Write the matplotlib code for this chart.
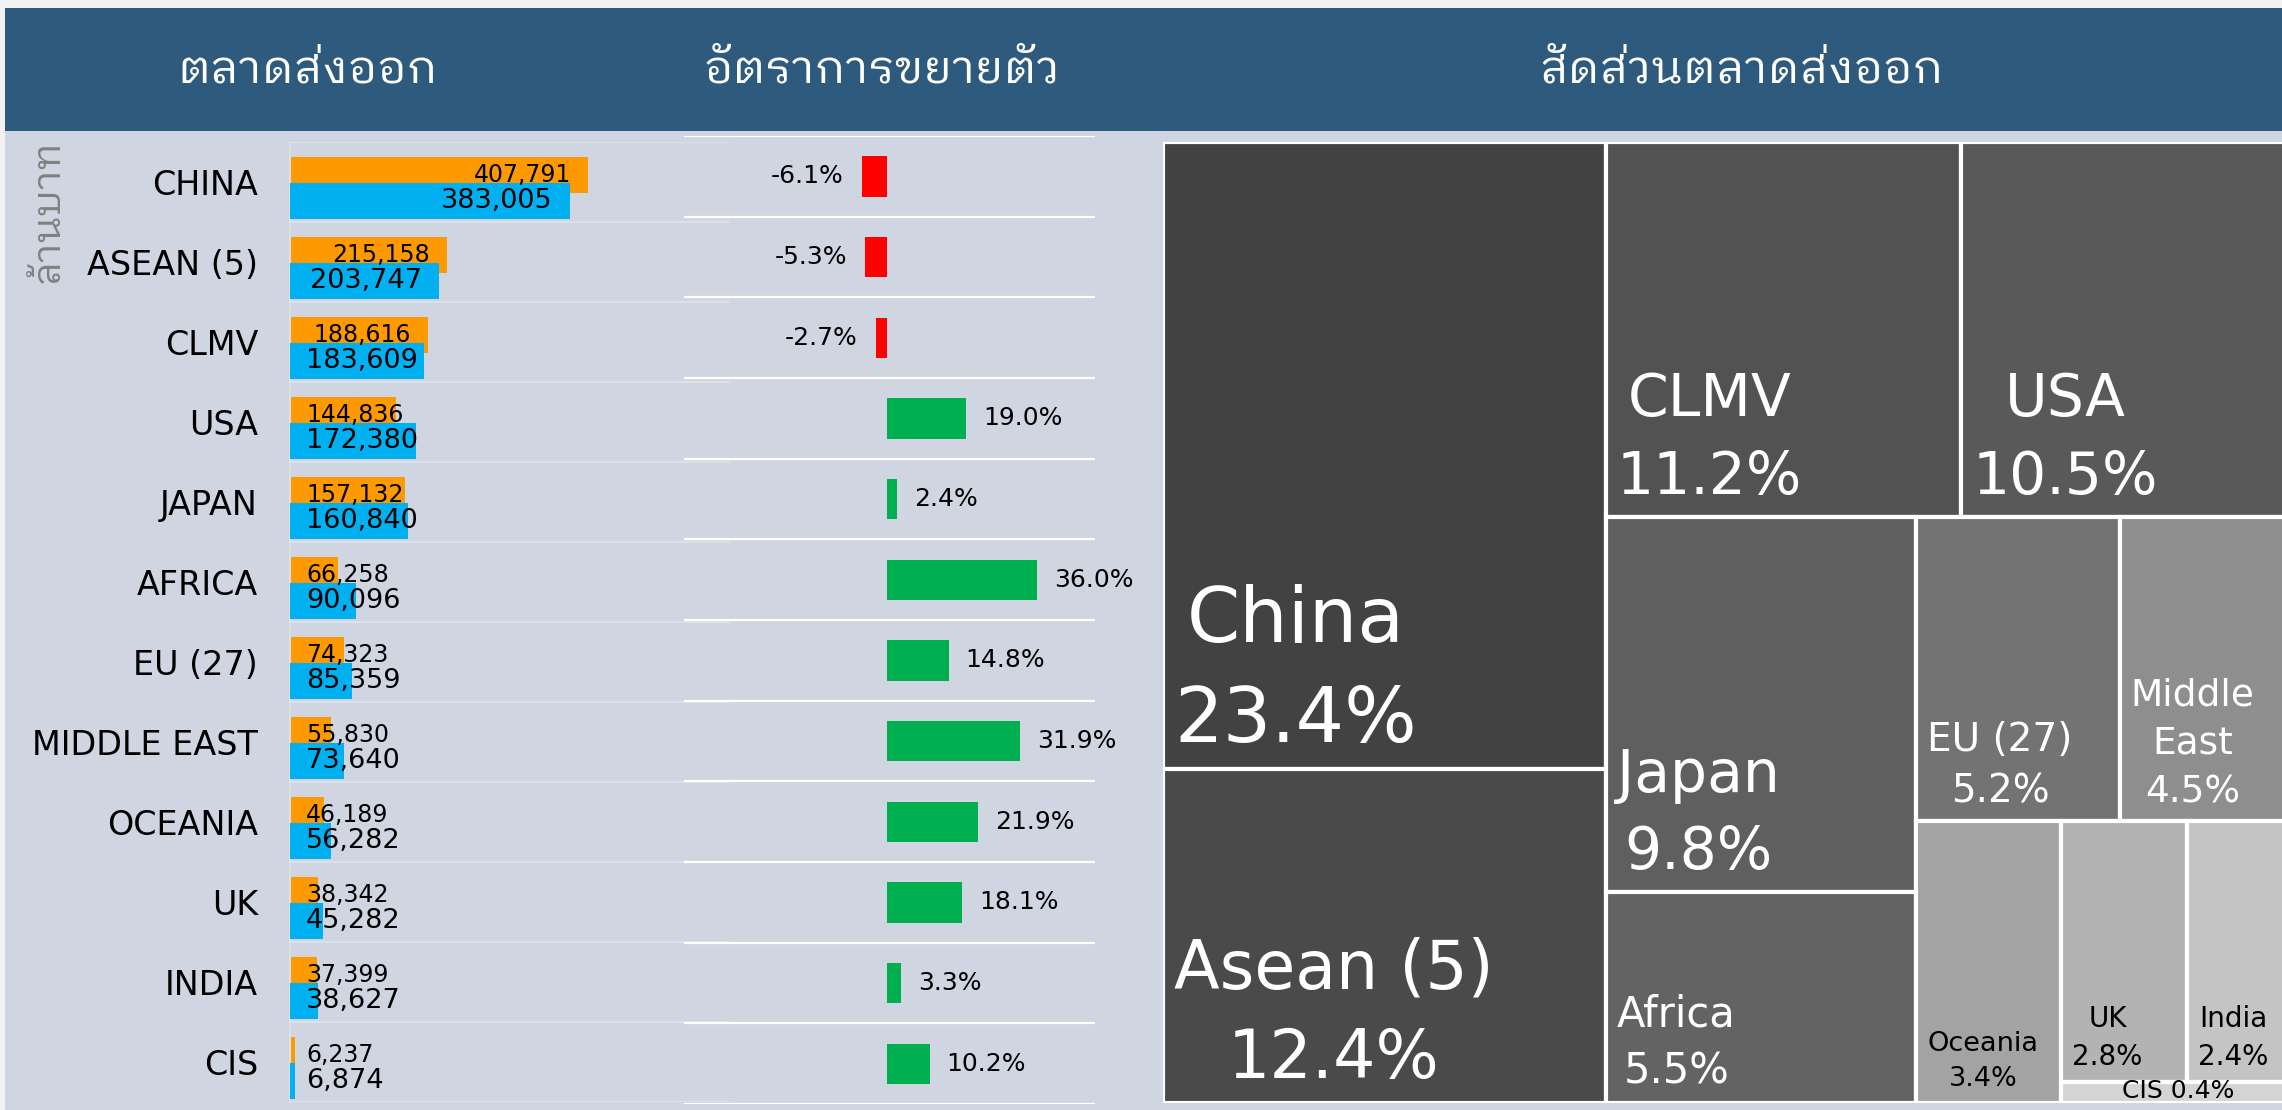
import numpy as np
import matplotlib
matplotlib.use('Agg')
import matplotlib.pyplot as plt
import matplotlib.font_manager as fm
from matplotlib.patches import Rectangle
from fontTools.ttLib import TTFont

# data
markets = ['CHINA', 'ASEAN (5)', 'CLMV', 'USA', 'JAPAN', 'AFRICA', 'EU (27)',
           'MIDDLE EAST', 'OCEANIA', 'UK', 'INDIA', 'CIS']
prev_year = [407791, 215158, 188616, 144836, 157132, 66258, 74323, 55830,
             46189, 38342, 37399, 6237]
this_year = [383005, 203747, 183609, 172380, 160840, 90096, 85359, 73640,
             56282, 45282, 38627, 6874]
growth = [-6.1, -5.3, -2.7, 19.0, 2.4, 36.0, 14.8, 31.9, 21.9, 18.1, 3.3, 10.2]
share_names = ['China', 'Asean (5)', 'CLMV', 'USA', 'Japan', 'Africa', 'EU (27)',
               'Middle\nEast', 'Oceania', 'UK', 'India', 'CIS']
shares = [23.4, 12.4, 11.2, 10.5, 9.8, 5.5, 5.2, 4.5, 3.4, 2.8, 2.4, 0.4]
headers = ['ตลาดส่งออก', 'อัตราการขยายตัว', 'สัดส่วนตลาดส่งออก']
unit_label = 'ล้านบาท'

# styles
tile_colors = ['#424242', '#4A4A4A', '#525252', '#595959', '#5F5F5F', '#636363',
               '#737373', '#8E8E8E', '#A3A3A3', '#B3B3B3', '#C4C4C4', '#D4D4D4']
tile_font = [55, 48, 42, 42, 42, 30, 28, 27, 19.5, 20, 20, 18]
tile_text = ['white'] * 8 + ['black'] * 4


def find_thai_font():
    found = []
    for f in fm.fontManager.ttflist:
        if 'CJK' in f.name:
            continue
        try:
            cmap = TTFont(f.fname, fontNumber=0, lazy=True).getBestCmap()
        except Exception:
            continue
        if cmap and 0x0E15 in cmap:
            found.append(f.name)
    for pref in ['Tahoma', 'Looped', 'Loma', 'Garuda', 'Tlwg', 'Sarabun', 'Noto Sans Thai']:
        for name in sorted(set(found)):
            if pref in name:
                return name
    return found[0] if found else 'DejaVu Sans'


thai = find_thai_font()
plt.rcParams['font.family'] = ['DejaVu Sans']
thai_family = [thai, 'DejaVu Sans']

W, H = 2282, 1110
fig = plt.figure(figsize=(W / 100, H / 100), dpi=100, facecolor='#F2F2F2')


def px_axes(x0, y0, x1, y1):
    return fig.add_axes([x0 / W, 1 - y1 / H, (x1 - x0) / W, (y1 - y0) / H])


# background, header band
bg = px_axes(0, 0, W, H)
bg.set_xlim(0, W)
bg.set_ylim(H, 0)
bg.axis('off')
bg.add_patch(Rectangle((5, 131), W, H, color='#CFD6E1', lw=0))
bg.add_patch(Rectangle((5, 8), W, 123, color='#2E5A7D', lw=0))
for x, s in zip([308, 882, 1741], headers):
    bg.text(x, 70, s, color='white', fontsize=33, ha='center', va='center',
            family=thai_family)
bg.text(48, 211, unit_label, color='#808080', fontsize=28, rotation=90,
        ha='center', va='center', family=thai_family)

rows = np.arange(len(markets))

# export values panel
bar_scale = 407791 / 298.0  # value units per pixel
ax = px_axes(290, 142, 730, 1102)
ax.set_xlim(0, 440 * bar_scale)
ax.set_ylim(len(markets) - 0.5, -0.5)
ax.patch.set_alpha(0)
ax.hlines(np.arange(len(markets) + 1) - 0.5, 0, 440 * bar_scale,
          color='#DDE1E7', lw=1.5, zorder=0)
ax.barh(rows - 0.0875, prev_year, height=0.45, color='#FF9900', zorder=2)
ax.barh(rows + 0.2375, this_year, height=0.45, color='#00B0F0', zorder=3)
for sp in ['top', 'right', 'bottom']:
    ax.spines[sp].set_visible(False)
ax.spines['left'].set_color('#DDE1E7')
ax.spines['left'].set_linewidth(1.5)
ax.set_xticks([])
ax.set_yticks(rows)
ax.set_yticklabels(markets, fontsize=24)
ax.tick_params(axis='y', length=0, pad=23)

renderer = fig.canvas.get_renderer()
for vals, off, fs in [(prev_year, -0.0875, 17), (this_year, 0.2375, 19.5)]:
    for i, v in enumerate(vals):
        t = ax.text(0, i + off, f'{v:,}', fontsize=fs, ha='left', va='center',
                    zorder=4)
        w = t.get_window_extent(renderer).width
        t.set_x(max(16 * bar_scale, v - (17 + w) * bar_scale))

# growth panel
gscale = 4.17  # pixels per percent
ag = px_axes(684, 136, 1095, 1104)
ag.set_xlim(-(887 - 684) / gscale, (1095 - 887) / gscale)
ag.set_ylim(len(markets) - 0.5, -0.5)
ag.axis('off')
ag.hlines(np.arange(len(markets) + 1) - 0.5, *ag.get_xlim(), color='white', lw=1.6)
ag.barh(rows, growth, height=0.5,
        color=['#FF0000' if g < 0 else '#00B050' for g in growth])
for i, g in enumerate(growth):
    if g < 0:
        ag.text(g - 18 / gscale, i, f'{g:.1f}%', ha='right', va='center', fontsize=18)
    else:
        ag.text(g + 17 / gscale, i, f'{g:.1f}%', ha='left', va='center', fontsize=18)


# treemap
def cost(areas, side, vertical):
    thick = sum(areas) / side
    worst = 0
    for a in areas:
        length = a / thick
        cw, ch = (thick, length) if vertical else (length, thick)
        r = cw / ch * 1.7 if cw > ch else ch / cw
        worst = max(worst, r)
    return worst


def squarify(values, x, y, w, h):
    cells = []
    values = list(values)
    while values:
        scale = w * h / sum(values)
        areas = [v * scale for v in values]
        vertical = w >= h
        side = h if vertical else w
        n = 1
        while n < len(areas) and cost(areas[:n + 1], side, vertical) <= cost(areas[:n], side, vertical):
            n += 1
        thick = sum(areas[:n]) / side
        pos = 0
        for a in areas[:n]:
            length = a / thick
            if vertical:
                cells.append((x, y + pos, thick, length))
            else:
                cells.append((x + pos, y, length, thick))
            pos += length
        if vertical:
            x += thick
            w -= thick
        else:
            y += thick
            h -= thick
        values = values[n:]
    return cells


TW, TH = 1132, 961
at = px_axes(1163, 142, 1163 + TW, 142 + TH)
at.set_xlim(0, TW)
at.set_ylim(TH, 0)
at.axis('off')
cells = squarify(this_year, 0, 0, TW, TH)
for (x, y, w, h), name, s, c, fs, tc in zip(cells, share_names, shares, tile_colors,
                                            tile_font, tile_text):
    at.add_patch(Rectangle((x, y), w, h, facecolor=c, edgecolor='white', lw=3))
    if h < 40:
        at.text(x + w / 2, y - 3, f'{name} {s:.1f}%', color=tc, fontsize=fs,
                ha='center', va='top', clip_on=False)
    else:
        at.text(x + 11, y + h - 11, f'{name}\n{s:.1f}%', color=tc, fontsize=fs,
                ha='left', va='bottom', multialignment='center', linespacing=1.45)

fig.savefig('out.png', dpi=100, facecolor=fig.get_facecolor())
